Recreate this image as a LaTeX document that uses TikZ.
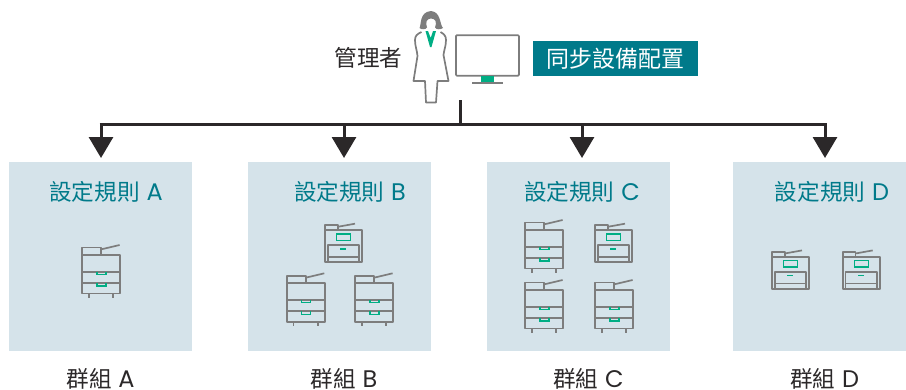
\documentclass[tikz,border=0pt]{standalone}
\usepackage{fontspec}
\setmainfont{Noto Sans CJK TC}
\newfontfamily\LATINFONT{Poppins}
\newcommand{\LAT}[1]{\hspace{.3em}{\LATINFONT\fontsize{24}{24}\selectfont #1}}
\usepackage{tikz}
\usetikzlibrary{arrows.meta,positioning,calc}
\definecolor{TEAL}{HTML}{007A8A}
\definecolor{PALE}{HTML}{D5E3EA}
\definecolor{MINT}{HTML}{00AE84}
\definecolor{GREY}{HTML}{7D7D7D}
\definecolor{INK}{HTML}{2B2829}
\tikzstyle{BOX} = [rectangle, fill=PALE, minimum width=183pt, minimum height=189pt, inner sep=0pt]
\tikzstyle{TITLE} = [text=TEAL, font=\fontsize{22.6}{23}\selectfont, inner sep=0pt]
\tikzstyle{GROUP} = [text=INK, font=\fontsize{22.6}{23}\selectfont, inner sep=0pt]
\tikzstyle{BANNER} = [rectangle, fill=TEAL, text=white, minimum width=164.5pt, minimum height=35pt, inner sep=0pt, font=\fontsize{23}{23}\selectfont]
\tikzstyle{LINE} = [draw=INK, line width=3pt]
\tikzstyle{ARROW} = [draw=INK, line width=3pt, -{Triangle[width=24pt,length=21pt]}]
\tikzstyle{OUTLINE} = [draw=GREY, line width=1.7pt, line join=round]
\tikzstyle{GREEN} = [draw=MINT, line width=1.5pt]
\tikzset{
  TALL/.pic={
    \draw [OUTLINE] (0,0) rectangle (38,38.4);
    \draw [OUTLINE] (0,16.7) -- (38,16.7);
    \draw [OUTLINE] (0,27.7) -- (38,27.7);
    \draw [OUTLINE] (0,0) -- (0,-7.6) -- (19,-7.6) -- (19,0);
    \draw [OUTLINE] (19,-5.6) -- (37.6,-10);
    \draw [OUTLINE] (6.7,38.4) -- (6.7,43);
    \draw [OUTLINE] (31,38.4) -- (31,43);
    \draw [GREEN] (15,16.7) -- (15,19.4) -- (24,19.4) -- (24,16.7);
    \draw [GREEN] (15,27.7) -- (15,31) -- (24,31) -- (24,27.7);
  },
  SHORT/.pic={
    \draw [OUTLINE] (0,0) rectangle (37.3,32.3);
    \draw [OUTLINE] (2.7,32.3) -- (2.7,15.3) -- (34.3,15.3) -- (34.3,32.3);
    \draw [OUTLINE] (2.7,26.7) -- (34.3,26.7);
    \draw [OUTLINE] (0,0) -- (0,-4.7) -- (12.7,-4.7) -- (12.7,0);
    \draw [OUTLINE] (13.3,-3.3) -- (30,-6.3);
    \draw [GREEN] (11.7,4) rectangle (25.6,10.3);
    \fill [MINT] (15,18) rectangle (21,19.7);
  }
}
\begin{document}
\begin{tikzpicture}[x=1pt, y=-1pt, node distance=122.5pt]
\useasboundingbox (0,0) rectangle (906,389);
% Boxes
\node [BOX] (BOX_A) at (100.5,256.5) {};
\node [BOX] (BOX_B) at (339.5,256.5) {};
\node [BOX] (BOX_C) at (578.5,256.5) {};
\node [BOX] (BOX_D) at (824.5,256.5) {};
% Titles and groups
\node [TITLE, above of=BOX_A, node distance=65pt, xshift=5.5pt] (RULE_A) {設定規則\LAT{A}};
\node [TITLE, above of=BOX_B, node distance=65pt, xshift=10.5pt] (RULE_B) {設定規則\LAT{B}};
\node [TITLE, above of=BOX_C, node distance=65pt, xshift=3.5pt] (RULE_C) {設定規則\LAT{C}};
\node [TITLE, above of=BOX_D, node distance=65pt, xshift=7.5pt] (RULE_D) {設定規則\LAT{D}};
\node [GROUP, below of=BOX_A] (GROUP_A) {群組\LAT{A}};
\node [GROUP, below of=BOX_B, xshift=4.5pt] (GROUP_B) {群組\LAT{B}};
\node [GROUP, below of=BOX_C, xshift=10pt] (GROUP_C) {群組\LAT{C}};
\node [GROUP, below of=BOX_D] (GROUP_D) {群組\LAT{D}};
% Top row
\node [GROUP] (ADMIN) at (368.5,58) {管理者};
\node [BANNER] (SYNC) at (615.3,58.3) {同步設備配置};
\node [draw=GREY, line width=1.7pt, rounded corners=1pt, minimum width=63pt, minimum height=40.5pt, inner sep=0pt] (SCREEN) at (487.4,55.4) {};
\fill [MINT] (481,75.7) rectangle (494,81.7);
\draw [OUTLINE] (472.3,82.7) -- (502.7,82.7);
% Person
\fill [GREY] (419.5,28) .. controls (421.5,25) and (419,12) .. (431,11) .. controls (441,12) and (439.5,24) .. (443,28) .. controls (440,30) and (436,29.5) .. (435,27.5) .. controls (437.5,22) and (435,18.5) .. (431,18.5) .. controls (427,18.5) and (425,22) .. (427,27.5) .. controls (426,29.5) and (422,30) .. (419.5,28) -- cycle;
\draw [OUTLINE] (421.5,32) .. controls (417,34) and (415,36) .. (415,40) .. controls (415,46) and (417,50) .. (417.5,56) -- (413.5,81) -- (425,81) -- (426,102.5) -- (436,102.5) -- (437.5,81) -- (448.5,81) -- (443.5,55) .. controls (444,50) and (446,46) .. (446,40) .. controls (446,36) and (444,34) .. (440.5,32);
\fill [MINT] (425.5,31) -- (428,31) -- (430.7,38) -- (433,31) -- (436,31) -- (431.5,47) -- (430,47) -- cycle;
% Connectors
\coordinate (STEM) at (460,100);
\coordinate (BUS) at (460,124);
\coordinate (TIP_A) at (101,158);
\coordinate (TIP_B) at (344,158);
\coordinate (TIP_C) at (582,158);
\coordinate (TIP_D) at (825,158);
\path [LINE] (STEM) -- (BUS);
\path [LINE] ($(TIP_A |- BUS)+(-1.5,0)$) -- ($(TIP_D |- BUS)+(1.5,0)$);
\path [ARROW] (TIP_A |- BUS) -- (TIP_A);
\path [ARROW] (TIP_B |- BUS) -- (TIP_B);
\path [ARROW] (TIP_C |- BUS) -- (TIP_C);
\path [ARROW] (TIP_D |- BUS) -- (TIP_D);
% Printers
\pic at (82,255) {TALL};
\pic at (286.7,283.3) {TALL};
\pic at (355,283.3) {TALL};
\pic at (525,230) {TALL};
\pic at (525,290) {TALL};
\pic at (595,290) {TALL};
\pic at (325,230) {SHORT};
\pic at (595,230) {SHORT};
\pic at (772,256.7) {SHORT};
\pic at (842.7,256.7) {SHORT};
\end{tikzpicture}
\end{document}
